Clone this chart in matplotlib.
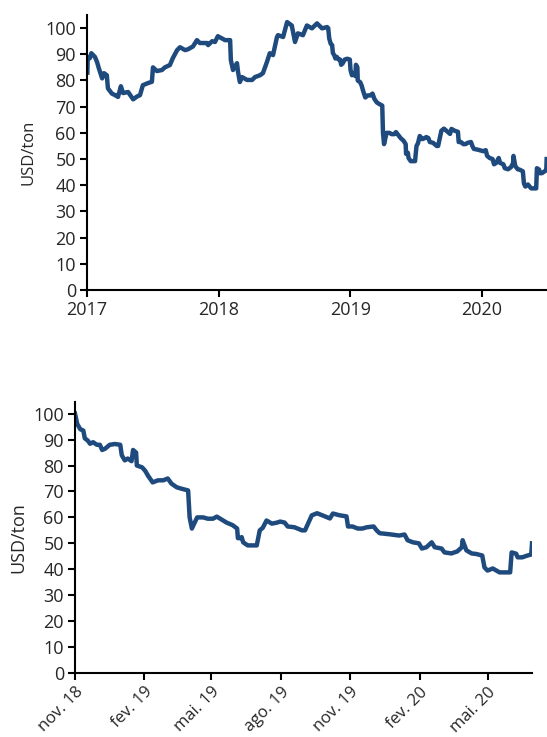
import matplotlib
matplotlib.use("Agg")
import matplotlib.pyplot as plt
import pandas as pd

# ---- data: price series (USD/ton) ----
dates = [
    "2017-01-02", "2017-01-03", "2017-01-09", "2017-01-13", "2017-01-23", "2017-01-29",
    "2017-02-03", "2017-02-12", "2017-02-17", "2017-02-25", "2017-02-28", "2017-03-11",
    "2017-03-20", "2017-03-28", "2017-04-05", "2017-04-11", "2017-04-25", "2017-05-09",
    "2017-05-20", "2017-05-28", "2017-06-05", "2017-06-19", "2017-06-30", "2017-07-03",
    "2017-07-14", "2017-07-28", "2017-08-05", "2017-08-19", "2017-08-27", "2017-09-08",
    "2017-09-16", "2017-09-30", "2017-10-08", "2017-10-22", "2017-11-02", "2017-11-10",
    "2017-11-30", "2017-12-03", "2017-12-14", "2017-12-22", "2017-12-30", "2018-01-10",
    "2018-01-19", "2018-02-02", "2018-02-04", "2018-02-10", "2018-02-21", "2018-02-24",
    "2018-03-01", "2018-03-07", "2018-03-21", "2018-04-04", "2018-04-12", "2018-04-26",
    "2018-05-04", "2018-05-15", "2018-05-23", "2018-06-01", "2018-06-12", "2018-06-15",
    "2018-06-29", "2018-07-10", "2018-07-23", "2018-08-01", "2018-08-09", "2018-08-23",
    "2018-09-03", "2018-09-17", "2018-10-01", "2018-10-15", "2018-10-29",
    "2018-11-01", "2018-11-04", "2018-11-08", "2018-11-12", "2018-11-14", "2018-11-18",
    "2018-11-21", "2018-11-25", "2018-11-30", "2018-12-04", "2018-12-07", "2018-12-11",
    "2018-12-17", "2018-12-24", "2018-12-31", "2019-01-02", "2019-01-06", "2019-01-10",
    "2019-01-15", "2019-01-17", "2019-01-21", "2019-01-22", "2019-01-29", "2019-02-02",
    "2019-02-06", "2019-02-12", "2019-02-19", "2019-02-26", "2019-03-04", "2019-03-09",
    "2019-03-16", "2019-03-23", "2019-03-31", "2019-04-02", "2019-04-05", "2019-04-08",
    "2019-04-12", "2019-04-20", "2019-04-26", "2019-05-03", "2019-05-08", "2019-05-12",
    "2019-05-21", "2019-05-29", "2019-06-04", "2019-06-05", "2019-06-08", "2019-06-10",
    "2019-06-12", "2019-06-18", "2019-06-25", "2019-06-30", "2019-07-04", "2019-07-08",
    "2019-07-13", "2019-07-20", "2019-07-27", "2019-07-31", "2019-08-06", "2019-08-10",
    "2019-08-19", "2019-08-29", "2019-09-02", "2019-09-06", "2019-09-11", "2019-09-18",
    "2019-09-25", "2019-10-05", "2019-10-09", "2019-10-18", "2019-10-27", "2019-10-29",
    "2019-11-04", "2019-11-11", "2019-11-17", "2019-11-23", "2019-12-02", "2019-12-06",
    "2019-12-10", "2019-12-23", "2020-01-05", "2020-01-12", "2020-01-16", "2020-01-23",
    "2020-01-31", "2020-02-04", "2020-02-10", "2020-02-17", "2020-02-21", "2020-03-01",
    "2020-03-05", "2020-03-14", "2020-03-22", "2020-03-28", "2020-03-29", "2020-04-03",
    "2020-04-10", "2020-04-16", "2020-04-24", "2020-04-27", "2020-05-01", "2020-05-08",
    "2020-05-17", "2020-05-28", "2020-05-31", "2020-06-02", "2020-06-08", "2020-06-10",
    "2020-06-16", "2020-06-23", "2020-06-28", "2020-06-29",
]
prices = [
    83, 89, 88.5, 90.4, 89, 87,
    84.6, 80.8, 82.8, 82, 77, 75,
    74.4, 73.7, 77.8, 75.2, 75.6, 72.8,
    73.9, 74.4, 78.2, 79, 79.5, 85,
    83.6, 84, 85, 85.9, 88.5, 91.6,
    92.7, 91.6, 91.9, 93, 95.4, 94.3,
    94.3, 93.5, 95, 94.7, 96.9, 96.1,
    95.4, 95.4, 87.8, 84, 86.6, 83.2,
    79.4, 81.3, 80.2, 80.2, 81.3, 82,
    82.8, 87, 90.4, 89.7, 96.6, 97.3,
    96.6, 102.3, 101, 94.7, 98, 97.3,
    101, 99.9, 101.8, 99.9, 100.4,
    100, 96, 94, 93.5, 90.5, 89.6,
    88.4, 89, 88, 88, 86, 86.5,
    88, 88.3, 88, 84, 82, 82.7,
    81.7, 86, 85, 80, 79.3, 78,
    76, 73.5, 74.3, 74.3, 75, 73,
    71.6, 71, 70.4, 60, 55.7, 57.6,
    60, 60, 59.5, 59.5, 60.3, 59.6,
    58, 57, 55.7, 52, 52, 52.4,
    50.4, 49.2, 49.2, 49.2, 55, 56,
    58.8, 57.6, 58, 58.4, 58, 56.5,
    56.2, 55, 55, 57.6, 60.8, 61.6,
    60.8, 59.6, 61.5, 60.8, 60.4, 56.5,
    56.5, 55.7, 55.7, 56.2, 56.5, 55,
    53.9, 53.5, 53, 53.4, 51.2, 50.4,
    50, 48, 48.5, 50.4, 48.5, 48,
    46.5, 46.1, 46.9, 48.5, 51.2, 47.3,
    46.1, 45.9, 45.3, 40.7, 39.5, 40.3,
    38.8, 38.8, 38.8, 46.5, 46, 44.6,
    44.6, 45.3, 45.7, 50,
]

top_ticks = ["2017-01-01", "2018-01-01", "2019-01-01", "2020-01-01"]
top_labels = ["2017", "2018", "2019", "2020"]
bottom_ticks = ["2018-11-01", "2019-02-01", "2019-05-01", "2019-08-01",
                "2019-11-01", "2020-02-01", "2020-05-01"]
bottom_labels = ["nov. 18", "fev. 19", "mai. 19", "ago. 19",
                 "nov. 19", "fev. 20", "mai. 20"]
y_ticks = [0, 10, 20, 30, 40, 50, 60, 70, 80, 90, 100]

plt.rcParams["font.family"] = ["Open Sans", "DejaVu Sans"]
LINE = "#1f4a7e"
TXT = "#262626"

s = pd.Series(prices, index=pd.to_datetime(dates))
zoom_start = pd.Timestamp("2018-11-01")

fig = plt.figure(figsize=(5.47, 7.37), dpi=100)

ax1 = fig.add_axes([87 / 547, 1 - 290 / 737, 1 - 87 / 547, (290 - 15) / 737])
ax2 = fig.add_axes([75 / 547, 1 - 673 / 737, (532 - 75) / 547, (673 - 402) / 737])


def style(ax):
    for sp in ["top", "right"]:
        ax.spines[sp].set_visible(False)
    for sp in ["left", "bottom"]:
        ax.spines[sp].set_linewidth(1.5)
        ax.spines[sp].set_color("black")
    ax.tick_params(axis="both", direction="out", length=5, width=1.5,
                   labelsize=13, colors="black", labelcolor=TXT, pad=3)
    ax.set_yticks(y_ticks)


ax1.plot(s.index, s.values, color=LINE, lw=3.2, solid_joinstyle="round")
ax1.set_xlim(pd.Timestamp("2017-01-01"), pd.Timestamp("2020-06-30"))
ax1.set_ylim(0, 105)
style(ax1)
ax1.set_xticks(pd.to_datetime(top_ticks))
ax1.set_xticklabels(top_labels)
ax1.set_ylabel("USD/ton", fontsize=12, color=TXT, labelpad=6)

sub = s[s.index >= zoom_start]
ax2.plot(sub.index, sub.values, color=LINE, lw=3.2, solid_joinstyle="round")
ax2.set_xlim(zoom_start, pd.Timestamp("2020-06-29"))
ax2.set_ylim(0, 104.5)
style(ax2)
ax2.set_xticks(pd.to_datetime(bottom_ticks))
ax2.set_xticklabels(bottom_labels, rotation=45, ha="right",
                    rotation_mode="anchor", fontsize=12)
ax2.set_ylabel("USD/ton", fontsize=13, color=TXT, labelpad=4)

fig.savefig("out.png", dpi=100)
